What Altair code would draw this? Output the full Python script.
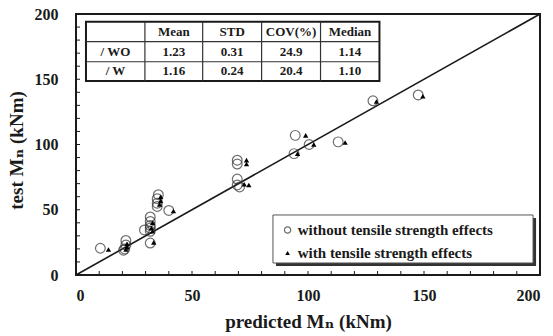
import altair as alt
import pandas as pd

# Measured vs. predicted nominal moment, two prediction variants
wo_pred = [10.5, 21.5, 21.5, 21.0, 20.5, 29.5, 32.0, 32.0, 32.0, 32.0, 32.0, 32.0,
           35.5, 35.0, 35.0, 35.0, 40.0, 69.5, 69.5, 69.5, 69.5, 70.5, 94.0, 94.5,
           100.5, 113.0, 128.0, 147.5]
wo_test = [20.5, 26.5, 23.0, 20.0, 19.0, 34.5, 44.5, 41.0, 38.0, 36.0, 33.5, 24.5,
           61.5, 58.5, 55.0, 52.5, 49.5, 88.0, 85.0, 73.5, 69.0, 67.5, 93.0, 107.0,
           100.0, 102.0, 133.5, 138.0]
w_pred = [14.0, 22.0, 22.0, 21.5, 32.5, 33.0, 33.0, 33.5, 36.5, 36.5, 36.0, 42.0,
          73.5, 73.5, 72.5, 74.5, 95.5, 99.0, 102.5, 116.0, 129.5, 149.5]
w_test = [19.5, 24.0, 21.5, 19.5, 36.0, 40.0, 33.5, 25.0, 60.0, 57.0, 54.0, 49.0,
          88.0, 85.0, 69.5, 69.0, 93.0, 107.0, 100.0, 101.5, 133.0, 137.0]

axis_ticks = [0, 50, 100, 150, 200]
minor_ticks = list(range(10, 200, 10))

# Summary statistics table
stat_cols = ["", "Mean", "STD", "COV(%)", "Median"]
stat_rows = [["/ WO", "1.23", "0.31", "24.9", "1.14"],
             ["/ W", "1.16", "0.24", "20.4", "1.10"]]
col_edges = [4.3, 29.7, 54.6, 80.0, 105.4, 130.8]
row_edges = [194.1, 178.8, 163.4, 148.7]

legend_labels = ["without tensile strength effects", "with tensile strength effects"]

W, H = 464, 261
FONT = "Liberation Serif"
TITLE_FONT = "'Liberation Serif', 'DejaVu Serif', serif"
INK = "#1a1a1a"

xs = alt.Scale(domain=[0, 200], nice=False, zero=False)
ys = alt.Scale(domain=[0, 200], nice=False, zero=False)

x_axis = alt.Axis(values=axis_ticks, grid=False, domain=False, ticks=False,
                  labelFont=FONT, labelFontSize=16, labelFontWeight="bold",
                  labelColor=INK, labelPadding=12,
                  title="predicted Mₙ (kNm)", titleFont=TITLE_FONT, titleFontSize=19,
                  titleFontWeight="bold", titleColor=INK,
                  titleBaseline="middle", titleY=46)
y_axis = alt.Axis(values=axis_ticks, grid=False, domain=False, ticks=False,
                  labelFont=FONT, labelFontSize=16, labelFontWeight="bold",
                  labelColor=INK, labelPadding=18,
                  title="test Mₙ (kNm)", titleFont=TITLE_FONT, titleFontSize=19,
                  titleFontWeight="bold", titleColor=INK,
                  titleBaseline="middle", titleX=-60, titleY=136)

wo_df = pd.DataFrame({"pred": wo_pred, "test": wo_test})
w_df = pd.DataFrame({"pred": w_pred, "test": w_test})
diag_df = pd.DataFrame({"pred": [0, 200], "test": [0, 200]})
tick_df = pd.DataFrame({"v": minor_ticks})

diag = alt.Chart(diag_df).mark_line(color=INK, strokeWidth=1.6).encode(
    x=alt.X("pred:Q", scale=xs, axis=x_axis),
    y=alt.Y("test:Q", scale=ys, axis=y_axis),
)

circles = alt.Chart(wo_df).mark_point(
    shape="circle", filled=False, color="#333333", strokeWidth=1.2, size=95
).encode(x=alt.X("pred:Q", scale=xs), y=alt.Y("test:Q", scale=ys))

triangles = alt.Chart(w_df).mark_point(
    shape="triangle-up", filled=True, color="#000000", opacity=1, size=28
).encode(x=alt.X("pred:Q", scale=xs), y=alt.Y("test:Q", scale=ys))

# inward minor ticks on the left and bottom edges
yticks = alt.Chart(tick_df).mark_rule(color=INK, strokeWidth=1).encode(
    y=alt.Y("v:Q", scale=ys), x=alt.value(0), x2=alt.value(4))
xticks = alt.Chart(tick_df).mark_rule(color=INK, strokeWidth=1).encode(
    x=alt.X("v:Q", scale=xs), y=alt.value(H), y2=alt.value(H - 4))

# table frame, grid and cell text
tbl_box = alt.Chart(pd.DataFrame({
    "x1": [col_edges[0]], "x2": [col_edges[-1]],
    "y1": [row_edges[0]], "y2": [row_edges[-1]]})).mark_rect(
    fill="white", stroke=INK, strokeWidth=2).encode(
    x=alt.X("x1:Q", scale=xs), x2="x2:Q",
    y=alt.Y("y1:Q", scale=ys), y2="y2:Q")

vlines = alt.Chart(pd.DataFrame({"x": col_edges[1:-1]})).mark_rule(
    color="#333333", strokeWidth=1.2).encode(
    x=alt.X("x:Q", scale=xs),
    y=alt.datum(row_edges[0], scale=ys), y2=alt.datum(row_edges[-1]))
hlines = alt.Chart(pd.DataFrame({"y": row_edges[1:-1]})).mark_rule(
    color="#333333", strokeWidth=1.2).encode(
    y=alt.Y("y:Q", scale=ys),
    x=alt.datum(col_edges[0], scale=xs), x2=alt.datum(col_edges[-1]))

cells = []
table = [stat_cols] + stat_rows
for r, row in enumerate(table):
    for c, txt in enumerate(row):
        if txt:
            cells.append({
                "x": (col_edges[c] + col_edges[c + 1]) / 2,
                "y": (row_edges[r] + row_edges[r + 1]) / 2,
                "t": txt,
            })
tbl_text = alt.Chart(pd.DataFrame(cells)).mark_text(
    font=FONT, fontSize=13, fontWeight="bold", color=INK, baseline="middle",
    align="center").encode(
    x=alt.X("x:Q", scale=xs), y=alt.Y("y:Q", scale=ys), text="t:N")

# legend box with drop shadow
leg_x1, leg_x2, leg_y1, leg_y2 = 84.9, 197.0, 46.0, 9.2
shadow = alt.Chart(pd.DataFrame({
    "x1": [leg_x1 + 1.3], "x2": [leg_x2 + 1.3],
    "y1": [leg_y1 - 2.3], "y2": [leg_y2 - 2.3]})).mark_rect(
    fill="#333333").encode(
    x=alt.X("x1:Q", scale=xs), x2="x2:Q", y=alt.Y("y1:Q", scale=ys), y2="y2:Q")
leg_box = alt.Chart(pd.DataFrame({
    "x1": [leg_x1], "x2": [leg_x2], "y1": [leg_y1], "y2": [leg_y2]})).mark_rect(
    fill="white", stroke="#555555", strokeWidth=1).encode(
    x=alt.X("x1:Q", scale=xs), x2="x2:Q", y=alt.Y("y1:Q", scale=ys), y2="y2:Q")

leg_sym_x, leg_txt_x, leg_rows = 91.2, 95.6, [34.5, 16.9]
leg_c = alt.Chart(pd.DataFrame({"x": [leg_sym_x], "y": [leg_rows[0]]})).mark_point(
    shape="circle", filled=False, color="#333333", strokeWidth=1.2, size=40).encode(
    x=alt.X("x:Q", scale=xs), y=alt.Y("y:Q", scale=ys))
leg_t = alt.Chart(pd.DataFrame({"x": [leg_sym_x], "y": [leg_rows[1]]})).mark_point(
    shape="triangle-up", filled=True, color="#000000", opacity=1, size=22).encode(
    x=alt.X("x:Q", scale=xs), y=alt.Y("y:Q", scale=ys))
leg_text = alt.Chart(pd.DataFrame({
    "x": [leg_txt_x] * 2, "y": leg_rows, "t": legend_labels})).mark_text(
    font=FONT, fontSize=15, fontWeight="bold", color=INK, align="left",
    baseline="middle").encode(
    x=alt.X("x:Q", scale=xs), y=alt.Y("y:Q", scale=ys), text="t:N")

chart = alt.layer(
    diag, circles, triangles, yticks, xticks,
    tbl_box, vlines, hlines, tbl_text,
    shadow, leg_box, leg_c, leg_t, leg_text,
).properties(
    width=W, height=H,
    autosize=alt.AutoSizeParams(type="none"),
    padding={"left": 76, "top": 14, "right": 13, "bottom": 61},
    background="white",
).configure_view(stroke=INK, strokeWidth=2)

chart.save("out.html", embed_options={"renderer": "svg", "actions": False})
